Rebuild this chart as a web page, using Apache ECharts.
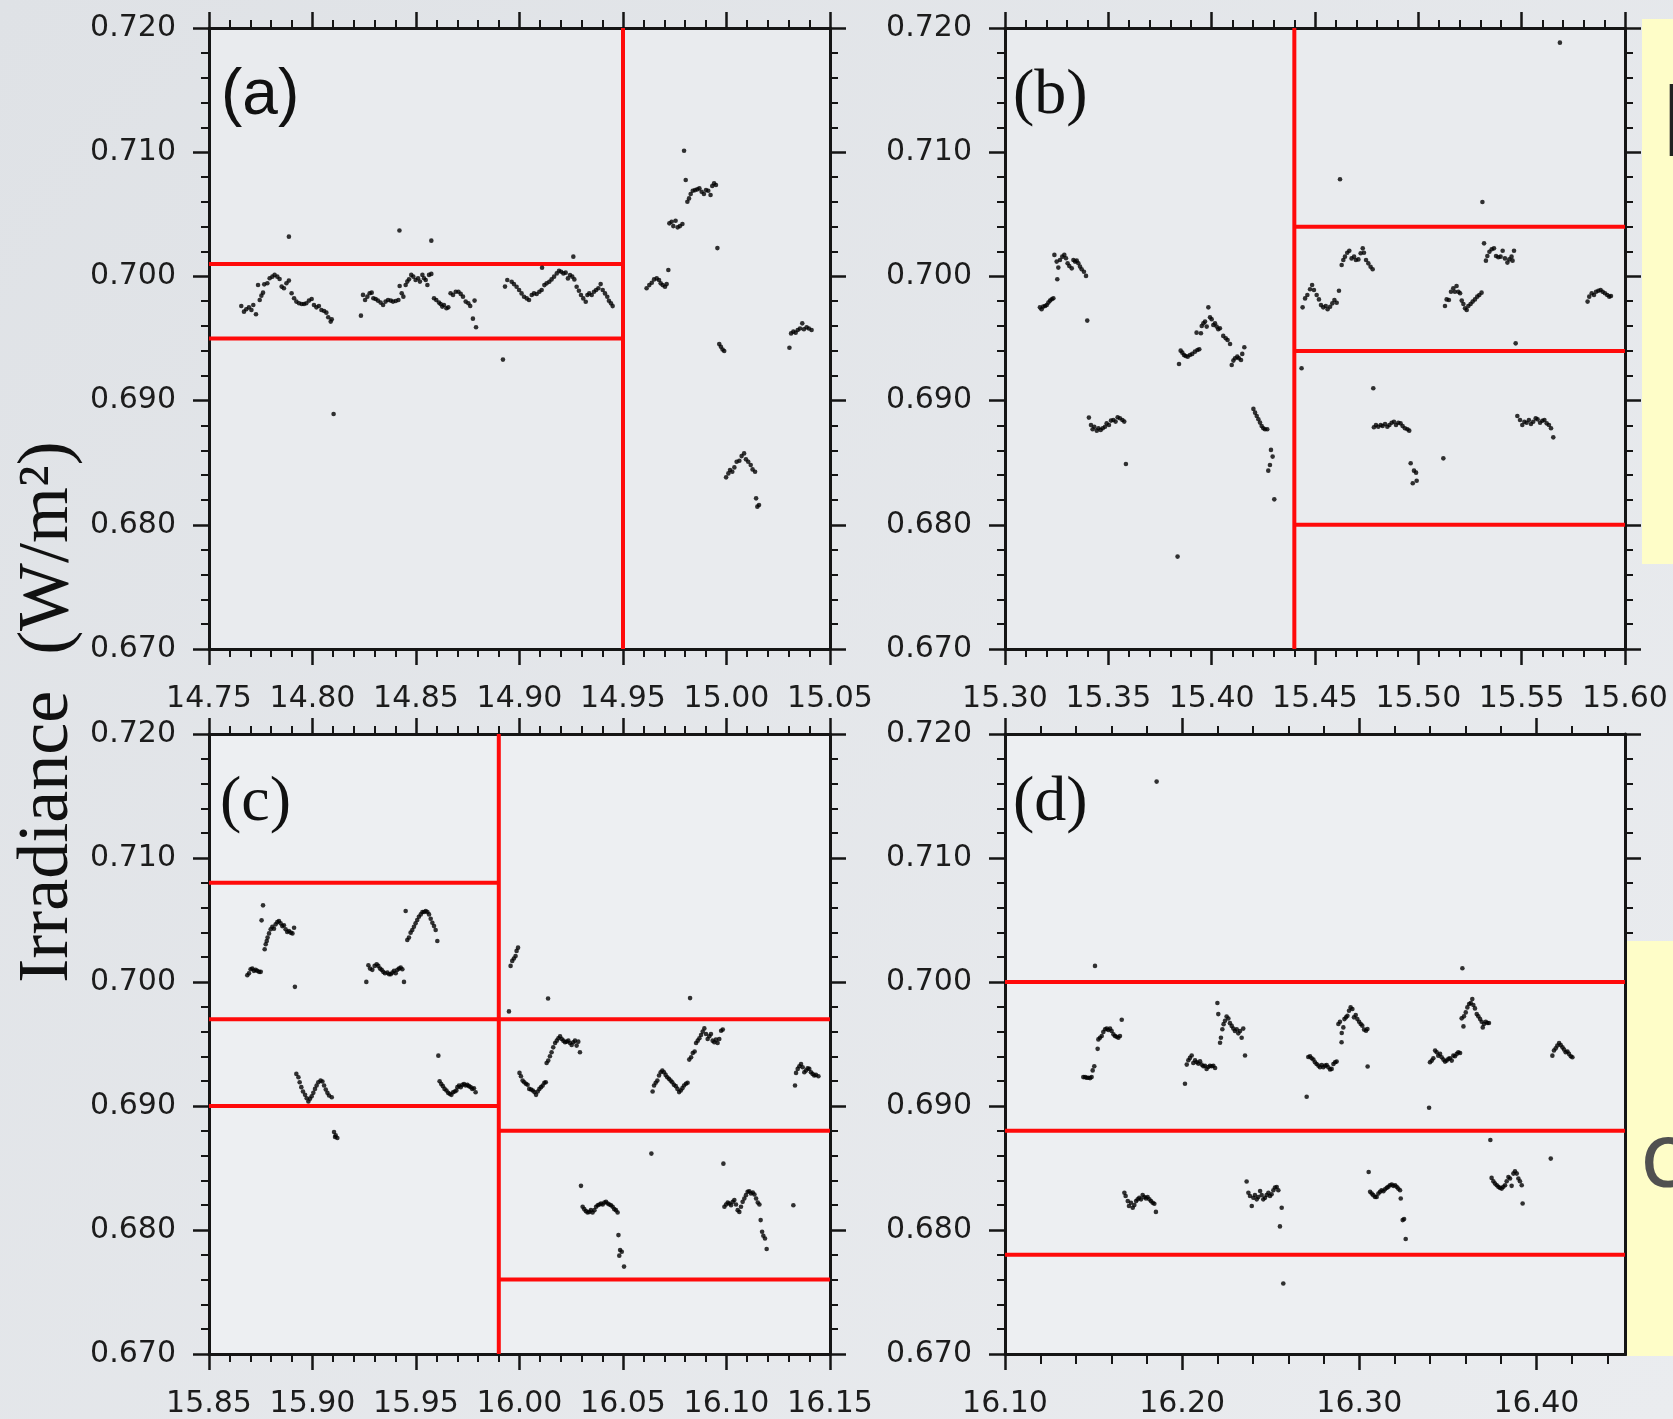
<!DOCTYPE html>
<html><head><meta charset="utf-8">
<script src="https://cdn.jsdelivr.net/npm/echarts@6/dist/echarts.min.js"></script>
<style>html,body{margin:0;padding:0;background:#e4e6e9}#c{width:1673px;height:1419px}</style>
</head><body><div id="c"></div>
<script>
// ---------- axis ranges & ticks ----------
const yRange = [0.670, 0.720];
const xRangeA = [14.75, 15.05];
const xRangeB = [15.30, 15.60];
const xRangeC = [15.85, 16.15];
const xRangeD = [16.10, 16.45];
const xMajorD = [16.10, 16.20, 16.30, 16.40];
const xMinorD = [16.12,16.14,16.16,16.18,16.22,16.24,16.26,16.28,16.32,16.34,16.36,16.38,16.42,16.44];
const panelLabels = ['(a)', '(b)', '(c)', '(d)'];

// ---------- red threshold segments [[x1,y1],[x2,y2]] ----------
const redA = [[[14.95,0.670],[14.95,0.720]], [[14.75,0.701],[14.95,0.701]], [[14.75,0.695],[14.95,0.695]]];
const redB = [[[15.44,0.670],[15.44,0.720]], [[15.44,0.704],[15.60,0.704]], [[15.44,0.694],[15.60,0.694]], [[15.44,0.680],[15.60,0.680]]];
const redC = [[[15.99,0.670],[15.99,0.720]], [[15.85,0.708],[15.99,0.708]], [[15.85,0.697],[15.99,0.697]], [[15.85,0.690],[15.99,0.690]],
              [[15.99,0.697],[16.15,0.697]], [[15.99,0.688],[16.15,0.688]], [[15.99,0.676],[16.15,0.676]]];
const redD = [[[16.10,0.700],[16.45,0.700]], [[16.10,0.688],[16.45,0.688]], [[16.10,0.678],[16.45,0.678]]];

// ---------- irradiance samples [time, value] ----------
const pointsA = [
[14.7886,0.70320],[14.8420,0.70370],[14.8574,0.70288],[14.8102,0.68892],[14.8920,0.69330],[14.8234,0.69684],[14.8775,0.69660],[14.8790,0.69590],
[14.7656,0.69762],[14.7669,0.69716],[14.7680,0.69735],[14.7693,0.69751],[14.7705,0.69730],[14.7714,0.69770],[14.7727,0.69695],[14.7737,0.69931],[14.7745,0.69810],[14.7753,0.69845],[14.7761,0.69869],[14.7767,0.69936],[14.7782,0.69945],[14.7793,0.69985],[14.7806,0.69998],[14.7817,0.70012],[14.7830,0.69998],[14.7841,0.69979],[14.7851,0.69918],[14.7862,0.69904],[14.7874,0.69945],[14.7886,0.69966],[14.7899,0.69864],[14.7911,0.69824],[14.7922,0.69797],[14.7935,0.69784],[14.7948,0.69778],[14.7959,0.69778],[14.7970,0.69784],[14.7983,0.69805],[14.7996,0.69818],[14.8007,0.69770],[14.8019,0.69751],[14.8031,0.69762],[14.8043,0.69730],[14.8056,0.69722],[14.8067,0.69708],[14.8076,0.69671],[14.8088,0.69636],[14.8093,0.69655],
[14.8244,0.69851],[14.8254,0.69810],[14.8265,0.69837],[14.8276,0.69864],[14.8286,0.69869],[14.8294,0.69824],[14.8305,0.69818],[14.8316,0.69805],[14.8329,0.69789],[14.8341,0.69770],[14.8353,0.69797],[14.8365,0.69810],[14.8378,0.69805],[14.8389,0.69797],[14.8402,0.69802],[14.8415,0.69810],[14.8421,0.69923],[14.8431,0.69864],[14.8439,0.69837],[14.8450,0.69931],[14.8458,0.69958],[14.8466,0.69977],[14.8477,0.70012],[14.8487,0.69998],[14.8498,0.69971],[14.8510,0.69985],[14.8519,0.69958],[14.8531,0.70012],[14.8539,0.69985],[14.8547,0.69971],[14.8555,0.69931],[14.8563,0.70012],[14.8574,0.70020],[14.8587,0.69824],[14.8598,0.69810],[14.8611,0.69789],[14.8619,0.69778],[14.8627,0.69757],[14.8635,0.69770],[14.8647,0.69743],[14.8656,0.69751],[14.8667,0.69864],[14.8679,0.69851],[14.8692,0.69877],[14.8705,0.69877],[14.8716,0.69859],[14.8727,0.69837],[14.8740,0.69797],[14.8753,0.69784],[14.8762,0.69762],[14.8783,0.69805],
[14.8930,0.69918],[14.8941,0.69971],[14.8962,0.69957],[14.8973,0.69938],[14.8986,0.69917],[14.8998,0.69890],[14.9010,0.69863],[14.9022,0.69836],[14.9035,0.69823],[14.9046,0.69810],[14.9059,0.69850],[14.9070,0.69863],[14.9083,0.69858],[14.9096,0.69877],[14.9107,0.69890],[14.9109,0.70070],[14.9120,0.69930],[14.9131,0.69944],[14.9144,0.69957],[14.9155,0.69976],[14.9167,0.69998],[14.9180,0.70024],[14.9191,0.70046],[14.9201,0.70038],[14.9212,0.70024],[14.9223,0.70030],[14.9234,0.69984],[14.9244,0.70011],[14.9255,0.69998],[14.9260,0.70159],[14.9265,0.69976],[14.9276,0.69917],[14.9287,0.69885],[14.9297,0.69850],[14.9308,0.69823],[14.9320,0.69796],[14.9328,0.69850],[14.9337,0.69863],[14.9349,0.69850],[14.9360,0.69877],[14.9370,0.69890],[14.9381,0.69904],[14.9392,0.69938],[14.9402,0.69890],[14.9413,0.69863],[14.9424,0.69836],[14.9432,0.69804],[14.9442,0.69783],[14.9450,0.69761],
[14.9614,0.69904],[14.9627,0.69930],[14.9639,0.69949],[14.9650,0.69976],[14.9663,0.69984],[14.9674,0.69971],[14.9682,0.69944],[14.9692,0.69930],[14.9703,0.69917],[14.9711,0.69938],[14.9719,0.70051],
[14.9724,0.70427],[14.9735,0.70440],[14.9743,0.70405],[14.9754,0.70448],[14.9764,0.70395],[14.9775,0.70405],[14.9787,0.70422],
[14.9795,0.71012],[14.9803,0.70776],
[14.9811,0.70601],[14.9819,0.70628],[14.9827,0.70663],[14.9837,0.70690],[14.9848,0.70695],[14.9859,0.70701],[14.9869,0.70709],[14.9880,0.70682],[14.9891,0.70663],[14.9901,0.70695],[14.9912,0.70690],[14.9923,0.70655],[14.9931,0.70728],[14.9940,0.70749],[14.9949,0.70736],
[14.9956,0.70228],
[14.9965,0.69455],[14.9973,0.69434],[14.9981,0.69412],[14.9989,0.69399],
[14.9998,0.68382],[15.0009,0.68414],[15.0017,0.68441],[15.0028,0.68427],[15.0038,0.68462],[15.0049,0.68508],[15.0062,0.68516],[15.0073,0.68553],[15.0085,0.68575],[15.0094,0.68527],[15.0105,0.68508],[15.0117,0.68481],[15.0126,0.68446],[15.0138,0.68427],[15.0143,0.68213],[15.0149,0.68146],[15.0157,0.68159],
[15.0304,0.69426],[15.0312,0.69541],[15.0323,0.69555],[15.0334,0.69547],[15.0344,0.69568],[15.0355,0.69581],[15.0366,0.69622],[15.0374,0.69574],[15.0387,0.69590],[15.0398,0.69581],[15.0411,0.69568]
];

const pointsB = [
[15.3169,0.69751],[15.3177,0.69735],[15.3185,0.69757],[15.3194,0.69762],[15.3202,0.69770],[15.3210,0.69789],[15.3218,0.69805],[15.3226,0.69816],[15.3234,0.69824],
[15.3239,0.70173],[15.3250,0.70119],[15.3253,0.69977],[15.3258,0.70071],[15.3266,0.70132],[15.3277,0.70159],[15.3287,0.70173],[15.3295,0.70146],[15.3303,0.70106],[15.3311,0.70084],[15.3323,0.70065],[15.3331,0.70132],[15.3339,0.70119],[15.3347,0.70127],[15.3355,0.70106],[15.3363,0.70079],[15.3371,0.70057],[15.3382,0.70038],[15.3392,0.70004],[15.3398,0.69644],
[15.3406,0.68863],[15.3416,0.68804],[15.3424,0.68769],[15.3432,0.68790],[15.3444,0.68758],[15.3452,0.68777],[15.3463,0.68764],[15.3473,0.68777],[15.3484,0.68790],[15.3492,0.68817],[15.3503,0.68804],[15.3513,0.68839],[15.3524,0.68844],[15.3535,0.68831],[15.3545,0.68866],[15.3556,0.68858],[15.3568,0.68844],[15.3577,0.68831],[15.3585,0.68490],
[15.3835,0.67744],[15.3842,0.69295],
[15.3850,0.69402],[15.3858,0.69386],[15.3866,0.69367],[15.3874,0.69359],[15.3884,0.69354],[15.3895,0.69367],[15.3906,0.69376],[15.3919,0.69394],[15.3931,0.69408],[15.3940,0.69413],[15.3927,0.69547],[15.3948,0.69542],[15.3952,0.69601],[15.3960,0.69622],[15.3968,0.69636],[15.3976,0.69596],[15.3984,0.69751],[15.3992,0.69671],[15.4000,0.69655],[15.4008,0.69609],[15.4016,0.69622],[15.4024,0.69596],[15.4032,0.69574],[15.4040,0.69582],[15.4056,0.69521],[15.4068,0.69502],[15.4077,0.69488],[15.4089,0.69456],[15.4097,0.69287],[15.4105,0.69322],[15.4113,0.69341],[15.4124,0.69354],[15.4132,0.69341],[15.4142,0.69327],[15.4148,0.69376],[15.4158,0.69429],
[15.4202,0.68933],[15.4210,0.68903],[15.4218,0.68876],[15.4226,0.68850],[15.4234,0.68823],[15.4242,0.68796],[15.4250,0.68777],[15.4258,0.68769],[15.4269,0.68769],[15.4287,0.68603],[15.4295,0.68549],[15.4282,0.68482],[15.4274,0.68436],[15.4303,0.68205],
[15.4435,0.69260],
[15.4440,0.69751],[15.4452,0.69823],[15.4463,0.69850],[15.4476,0.69896],[15.4486,0.69931],[15.4495,0.69890],[15.4508,0.69850],[15.4519,0.69815],[15.4529,0.69770],[15.4540,0.69751],[15.4552,0.69762],[15.4561,0.69735],[15.4573,0.69756],[15.4584,0.69783],[15.4594,0.69810],[15.4605,0.69788],[15.4616,0.69885],
[15.4621,0.70782],
[15.4629,0.70092],[15.4637,0.70132],[15.4645,0.70159],[15.4656,0.70191],[15.4666,0.70207],[15.4677,0.70145],[15.4689,0.70159],[15.4698,0.70132],[15.4710,0.70137],[15.4721,0.70186],[15.4731,0.70226],[15.4737,0.70191],[15.4747,0.70132],[15.4758,0.70105],[15.4769,0.70078],[15.4779,0.70057],
[15.4782,0.69099],
[15.4785,0.68785],[15.4795,0.68803],[15.4806,0.68790],[15.4818,0.68803],[15.4827,0.68795],[15.4839,0.68812],[15.4850,0.68790],[15.4860,0.68803],[15.4871,0.68822],[15.4882,0.68830],[15.4892,0.68803],[15.4903,0.68822],[15.4914,0.68817],[15.4924,0.68795],[15.4935,0.68777],[15.4947,0.68769],[15.4956,0.68758],
[15.4963,0.68495],[15.4979,0.68436],[15.4989,0.68420],[15.4992,0.68355],[15.4973,0.68334],
[15.5121,0.68535],
[15.5129,0.69762],[15.5137,0.69815],[15.5148,0.69810],[15.5158,0.69877],[15.5169,0.69904],[15.5177,0.69877],[15.5185,0.69923],[15.5194,0.69877],[15.5202,0.69864],[15.5210,0.69805],[15.5218,0.69778],[15.5226,0.69743],[15.5234,0.69729],[15.5242,0.69762],[15.5253,0.69778],[15.5263,0.69797],[15.5274,0.69815],[15.5285,0.69837],[15.5295,0.69850],[15.5306,0.69869],
[15.5310,0.70599],
[15.5318,0.70266],[15.5327,0.70127],[15.5334,0.70164],[15.5344,0.70199],[15.5355,0.70218],[15.5366,0.70226],[15.5376,0.70164],[15.5387,0.70154],[15.5398,0.70159],[15.5408,0.70207],[15.5419,0.70145],[15.5431,0.70111],[15.5440,0.70137],[15.5451,0.70159],[15.5463,0.70207],[15.5456,0.70127],
[15.5471,0.69461],
[15.5479,0.68876],[15.5492,0.68844],[15.5503,0.68803],[15.5513,0.68830],[15.5524,0.68822],[15.5535,0.68844],[15.5545,0.68812],[15.5556,0.68830],[15.5568,0.68857],[15.5577,0.68849],[15.5589,0.68822],[15.5600,0.68838],[15.5610,0.68844],[15.5621,0.68817],[15.5632,0.68803],[15.5642,0.68777],[15.5653,0.68704],
[15.5685,0.71882],
[15.5819,0.69797],[15.5827,0.69837],[15.5839,0.69864],[15.5850,0.69850],[15.5860,0.69877],[15.5871,0.69885],[15.5882,0.69890],[15.5892,0.69877],[15.5903,0.69864],[15.5914,0.69850],[15.5924,0.69837],[15.5932,0.69842]
];

const pointsC = [
[15.8685,0.70055],[15.8693,0.70071],[15.8701,0.70103],[15.8709,0.70108],[15.8717,0.70090],[15.8725,0.70098],[15.8733,0.70090],[15.8742,0.70082],[15.8750,0.70082],
[15.8754,0.70497],[15.8761,0.70618],
[15.8769,0.70264],[15.8774,0.70304],[15.8779,0.70331],[15.8783,0.70358],[15.8790,0.70392],[15.8798,0.70425],[15.8806,0.70446],[15.8814,0.70430],[15.8822,0.70465],[15.8830,0.70484],[15.8838,0.70492],[15.8846,0.70473],[15.8854,0.70451],[15.8862,0.70457],[15.8870,0.70425],[15.8878,0.70403],[15.8886,0.70411],[15.8895,0.70398],[15.8903,0.70392],[15.8911,0.70438],
[15.8915,0.69961],
[15.8922,0.69259],[15.8932,0.69232],[15.8938,0.69192],[15.8946,0.69152],[15.8954,0.69117],[15.8964,0.69090],[15.8972,0.69063],[15.8980,0.69036],[15.8988,0.69058],[15.8996,0.69079],[15.9004,0.69106],[15.9012,0.69138],[15.9020,0.69165],[15.9028,0.69192],[15.9039,0.69205],[15.9048,0.69197],[15.9056,0.69165],[15.9064,0.69133],[15.9072,0.69106],[15.9080,0.69085],[15.9093,0.69071],
[15.9104,0.68790],[15.9112,0.68763],[15.9120,0.68742],[15.9109,0.68750],
[15.9260,0.70001],
[15.9270,0.70135],[15.9278,0.70108],[15.9289,0.70098],[15.9300,0.70130],[15.9310,0.70143],[15.9318,0.70130],[15.9326,0.70108],[15.9334,0.70098],[15.9342,0.70082],[15.9350,0.70071],[15.9362,0.70076],[15.9370,0.70063],[15.9378,0.70063],[15.9386,0.70076],[15.9394,0.70090],[15.9402,0.70071],[15.9410,0.70098],[15.9418,0.70108],[15.9426,0.70116],[15.9434,0.70103],[15.9442,0.70001],
[15.9450,0.70572],
[15.9458,0.70339],[15.9466,0.70358],[15.9474,0.70398],[15.9482,0.70419],[15.9490,0.70446],[15.9498,0.70473],[15.9506,0.70500],[15.9514,0.70526],[15.9523,0.70545],[15.9531,0.70564],[15.9539,0.70564],[15.9547,0.70572],[15.9555,0.70564],[15.9563,0.70545],[15.9571,0.70510],[15.9579,0.70478],[15.9587,0.70451],[15.9595,0.70419],[15.9603,0.70331],
[15.9608,0.69406],
[15.9614,0.69200],[15.9622,0.69178],[15.9630,0.69160],[15.9638,0.69138],[15.9647,0.69125],[15.9655,0.69106],[15.9663,0.69098],[15.9671,0.69090],[15.9679,0.69111],[15.9687,0.69117],[15.9695,0.69125],[15.9700,0.69152],[15.9708,0.69165],[15.9716,0.69152],[15.9724,0.69170],[15.9732,0.69178],[15.9740,0.69165],[15.9748,0.69170],[15.9756,0.69160],[15.9764,0.69152],[15.9772,0.69138],[15.9780,0.69143],[15.9788,0.69111],
[15.9949,0.69763],[15.9957,0.70130],[15.9965,0.70170],[15.9973,0.70189],[15.9981,0.70210],[15.9986,0.70251],[15.9993,0.70277],
[16.0138,0.69867],[16.0824,0.69870],
[16.0000,0.69267],[16.0007,0.69240],[16.0015,0.69205],[16.0023,0.69192],[16.0031,0.69179],[16.0039,0.69171],[16.0047,0.69138],[16.0056,0.69133],[16.0064,0.69125],[16.0072,0.69112],[16.0080,0.69090],[16.0088,0.69117],[16.0096,0.69138],[16.0104,0.69152],[16.0112,0.69165],[16.0120,0.69187],[16.0127,0.69192],
[16.0131,0.69347],[16.0139,0.69366],[16.0147,0.69401],[16.0155,0.69433],[16.0163,0.69473],[16.0172,0.69508],[16.0180,0.69527],[16.0188,0.69546],[16.0196,0.69562],[16.0204,0.69540],[16.0212,0.69527],[16.0220,0.69514],[16.0228,0.69519],[16.0236,0.69527],[16.0244,0.69508],[16.0252,0.69492],[16.0260,0.69514],[16.0268,0.69527],[16.0276,0.69487],[16.0284,0.69519],[16.0292,0.69433],
[16.0297,0.68356],[16.0305,0.68187],[16.0313,0.68168],[16.0321,0.68152],[16.0329,0.68141],[16.0337,0.68146],[16.0345,0.68160],[16.0353,0.68141],[16.0362,0.68160],[16.0370,0.68187],[16.0378,0.68200],[16.0386,0.68206],[16.0394,0.68214],[16.0402,0.68206],[16.0410,0.68222],[16.0418,0.68227],[16.0426,0.68214],[16.0434,0.68206],[16.0442,0.68200],[16.0450,0.68187],[16.0458,0.68168],[16.0466,0.68160],[16.0474,0.68141],[16.0478,0.67959],[16.0486,0.67839],[16.0494,0.67825],[16.0482,0.67793],[16.0505,0.67705],
[16.0637,0.68616],
[16.0643,0.69117],[16.0650,0.69165],[16.0658,0.69187],[16.0666,0.69205],[16.0674,0.69246],[16.0682,0.69272],[16.0690,0.69286],[16.0698,0.69272],[16.0706,0.69251],[16.0714,0.69232],[16.0722,0.69219],[16.0730,0.69205],[16.0738,0.69192],[16.0746,0.69171],[16.0755,0.69160],[16.0763,0.69138],[16.0771,0.69112],[16.0779,0.69125],[16.0787,0.69144],[16.0795,0.69165],[16.0804,0.69179],[16.0812,0.69187],
[16.0820,0.69374],[16.0829,0.69393],[16.0837,0.69428],[16.0846,0.69439],[16.0853,0.69508],[16.0861,0.69527],[16.0869,0.69546],[16.0877,0.69573],[16.0885,0.69600],[16.0893,0.69626],[16.0901,0.69581],[16.0909,0.69540],[16.0917,0.69562],[16.0925,0.69581],[16.0933,0.69527],[16.0941,0.69514],[16.0949,0.69535],[16.0957,0.69508],[16.0965,0.69540],[16.0974,0.69607],[16.0982,0.69616],
[16.0985,0.68535],
[16.0990,0.68187],[16.0998,0.68206],[16.1006,0.68222],[16.1014,0.68214],[16.1022,0.68200],[16.1030,0.68227],[16.1038,0.68241],[16.1046,0.68206],[16.1054,0.68160],[16.1062,0.68146],[16.1070,0.68187],[16.1078,0.68227],[16.1086,0.68254],[16.1094,0.68281],[16.1102,0.68308],[16.1110,0.68313],[16.1118,0.68294],[16.1127,0.68302],[16.1135,0.68286],[16.1143,0.68254],[16.1151,0.68222],[16.1159,0.68206],[16.1165,0.68080],[16.1172,0.67986],[16.1178,0.67954],[16.1186,0.67932],[16.1194,0.67847],
[16.1323,0.68200],
[16.1331,0.69165],[16.1336,0.69267],[16.1344,0.69299],[16.1352,0.69321],[16.1360,0.69339],[16.1368,0.69313],[16.1376,0.69272],[16.1384,0.69286],[16.1392,0.69305],[16.1400,0.69299],[16.1408,0.69272],[16.1416,0.69259],[16.1424,0.69246],[16.1432,0.69251],[16.1444,0.69240]
];

const pointsD = [
[16.1508,0.70130],[16.1856,0.71616],
[16.1442,0.69233],[16.1452,0.69233],[16.1461,0.69228],[16.1470,0.69228],[16.1480,0.69225],[16.1489,0.69233],[16.1495,0.69287],[16.1504,0.69320],[16.1523,0.69461],[16.1527,0.69537],[16.1536,0.69551],[16.1546,0.69565],[16.1555,0.69597],[16.1565,0.69619],[16.1574,0.69624],[16.1583,0.69613],[16.1593,0.69624],[16.1602,0.69605],[16.1612,0.69578],[16.1621,0.69565],[16.1630,0.69559],[16.1640,0.69551],[16.1649,0.69565],[16.1659,0.69695],
[16.1674,0.68301],[16.1681,0.68274],[16.1693,0.68233],[16.1700,0.68193],[16.1711,0.68220],[16.1721,0.68179],[16.1730,0.68201],[16.1740,0.68233],[16.1749,0.68247],[16.1758,0.68260],[16.1768,0.68247],[16.1777,0.68282],[16.1787,0.68266],[16.1796,0.68255],[16.1805,0.68266],[16.1815,0.68247],[16.1824,0.68233],[16.1834,0.68220],[16.1843,0.68212],[16.1852,0.68146],
[16.2016,0.69179],
[16.2026,0.69334],[16.2035,0.69369],[16.2044,0.69388],[16.2054,0.69407],[16.2063,0.69347],[16.2073,0.69369],[16.2082,0.69353],[16.2091,0.69342],[16.2101,0.69361],[16.2110,0.69334],[16.2120,0.69320],[16.2129,0.69325],[16.2138,0.69298],[16.2148,0.69315],[16.2157,0.69325],[16.2167,0.69320],[16.2176,0.69325],[16.2186,0.69307],
[16.2199,0.69831],[16.2204,0.69741],[16.2214,0.69510],[16.2219,0.69551],[16.2227,0.69619],[16.2234,0.69660],[16.2242,0.69687],[16.2251,0.69722],[16.2261,0.69706],[16.2270,0.69668],[16.2280,0.69646],[16.2289,0.69624],[16.2298,0.69605],[16.2308,0.69619],[16.2317,0.69586],[16.2327,0.69605],[16.2336,0.69551],[16.2345,0.69624],[16.2355,0.69407],
[16.2364,0.68391],[16.2374,0.68301],[16.2383,0.68274],[16.2393,0.68193],[16.2402,0.68260],[16.2411,0.68282],[16.2421,0.68247],[16.2430,0.68266],[16.2440,0.68315],[16.2449,0.68282],[16.2458,0.68247],[16.2468,0.68260],[16.2477,0.68282],[16.2487,0.68301],[16.2496,0.68274],[16.2505,0.68288],[16.2515,0.68320],[16.2524,0.68342],[16.2534,0.68347],[16.2543,0.68320],[16.2562,0.68179],[16.2552,0.68029],[16.2571,0.67568],
[16.2703,0.69075],
[16.2712,0.69395],[16.2722,0.69401],[16.2731,0.69385],[16.2741,0.69374],[16.2750,0.69353],[16.2759,0.69339],[16.2769,0.69326],[16.2778,0.69313],[16.2788,0.69331],[16.2797,0.69313],[16.2807,0.69326],[16.2816,0.69331],[16.2825,0.69313],[16.2835,0.69294],[16.2844,0.69299],[16.2854,0.69339],[16.2863,0.69353],[16.2872,0.69358],
[16.2882,0.69661],[16.2891,0.69680],[16.2900,0.69514],[16.2901,0.69589],[16.2910,0.69634],[16.2916,0.69701],[16.2925,0.69715],[16.2933,0.69728],[16.2942,0.69768],[16.2951,0.69795],[16.2961,0.69782],[16.2970,0.69715],[16.2980,0.69733],[16.2989,0.69701],[16.2999,0.69680],[16.3008,0.69661],[16.3017,0.69648],[16.3027,0.69616],[16.3038,0.69607],[16.3046,0.69621],[16.3047,0.69318],
[16.3053,0.68468],[16.3061,0.68308],[16.3070,0.68294],[16.3079,0.68281],[16.3089,0.68267],[16.3098,0.68267],[16.3108,0.68294],[16.3117,0.68308],[16.3126,0.68321],[16.3136,0.68313],[16.3145,0.68329],[16.3155,0.68340],[16.3164,0.68348],[16.3173,0.68361],[16.3183,0.68367],[16.3192,0.68356],[16.3202,0.68361],[16.3211,0.68348],[16.3220,0.68334],[16.3230,0.68321],[16.3234,0.68254],[16.3245,0.68080],[16.3253,0.68088],[16.3262,0.67927],
[16.3394,0.68986],
[16.3399,0.69353],[16.3409,0.69366],[16.3418,0.69385],[16.3428,0.69447],[16.3437,0.69433],[16.3446,0.69406],[16.3456,0.69420],[16.3465,0.69393],[16.3475,0.69374],[16.3484,0.69358],[16.3493,0.69366],[16.3503,0.69380],[16.3512,0.69385],[16.3522,0.69366],[16.3531,0.69406],[16.3540,0.69401],[16.3550,0.69420],[16.3559,0.69433],[16.3569,0.69428],
[16.3582,0.70111],
[16.3578,0.69707],[16.3588,0.69642],[16.3591,0.69723],[16.3601,0.69755],[16.3610,0.69795],[16.3620,0.69822],[16.3629,0.69830],[16.3638,0.69862],[16.3644,0.69814],[16.3653,0.69787],[16.3663,0.69741],[16.3672,0.69723],[16.3682,0.69701],[16.3691,0.69680],[16.3697,0.69634],[16.3704,0.69661],[16.3714,0.69680],[16.3723,0.69669],[16.3732,0.69669],
[16.3740,0.68726],
[16.3747,0.68420],[16.3757,0.68393],[16.3766,0.68375],[16.3776,0.68361],[16.3785,0.68348],[16.3794,0.68340],[16.3804,0.68334],[16.3813,0.68348],[16.3823,0.68361],[16.3832,0.68393],[16.3842,0.68428],[16.3851,0.68415],[16.3860,0.68356],[16.3870,0.68455],[16.3879,0.68474],[16.3889,0.68455],[16.3898,0.68415],[16.3907,0.68393],[16.3917,0.68361],[16.3922,0.68214],
[16.4081,0.68576],
[16.4090,0.69406],[16.4099,0.69447],[16.4109,0.69465],[16.4118,0.69487],[16.4128,0.69508],[16.4137,0.69492],[16.4147,0.69473],[16.4156,0.69455],[16.4165,0.69433],[16.4175,0.69439],[16.4184,0.69420],[16.4194,0.69401],[16.4203,0.69393]
];

// ---------- build chart ----------
const panels = [
  {grid:{left:209, top:28, width:621, height:621}, xr:xRangeA, iv:0.05, pts:pointsA, red:redA},
  {grid:{left:1005, top:28, width:620, height:621}, xr:xRangeB, iv:0.05, pts:pointsB, red:redB},
  {grid:{left:209, top:734, width:621, height:622}, xr:xRangeC, iv:0.05, pts:pointsC, red:redC},
  {grid:{left:1005, top:734, width:620, height:622}, xr:xRangeD, iv:0.10, pts:pointsD, red:redD, custom:true}
];
const INK = '#151515';
const labelFont = {fontSize:30, fontFamily:'DejaVu Sans', color:'#1c1c1c'};
const lineS = {show:true, onZero:false, lineStyle:{color:INK, width:3}};
const tickS = {show:true, inside:false, length:16, lineStyle:{color:INK, width:2.5}};
const minorS = {show:true, splitNumber:5, length:8, lineStyle:{color:INK, width:2}};

const grids = [], xAxes = [], yAxes = [], series = [], graphics = [];
panels.forEach((p, i) => {
  grids.push(Object.assign({show:true, backgroundColor: i < 2 ? '#e9ebee' : '#edeff2', borderWidth:0}, p.grid));
  ['bottom','top'].forEach(pos => {
    const ax = {type:'value', gridIndex:i, position:pos, min:p.xr[0], max:p.xr[1], interval:p.iv,
      splitLine:{show:false}, axisLine:lineS, axisTick:Object.assign({}, tickS),
      minorTick:minorS,
      axisLabel: pos === 'bottom' ? Object.assign({show:true, margin:35, formatter:v => v.toFixed(2)}, labelFont) : {show:false}};
    if (p.custom) {
      ax.axisTick.customValues = xMajorD;
      ax.minorTick = {show:false};
      if (pos === 'bottom') { ax.axisLabel.customValues = xMajorD; ax.axisLabel.showMaxLabel = true; }
    }
    xAxes.push(ax);
  });
  ['left','right'].forEach(pos => {
    yAxes.push({type:'value', gridIndex:i, position:pos, min:yRange[0], max:yRange[1], interval:0.01,
      splitLine:{show:false}, axisLine:lineS, axisTick:tickS, minorTick:minorS,
      axisLabel: pos === 'left' ? Object.assign({show:true, margin:33, formatter:v => v.toFixed(3)}, labelFont) : {show:false}});
  });
  p.red.forEach(seg => series.push({type:'line', xAxisIndex:2*i, yAxisIndex:2*i, data:seg, symbol:'none',
    lineStyle:{color:'#ff0a0a', width:4}, z:3, silent:true}));
  series.push({type:'scatter', xAxisIndex:2*i, yAxisIndex:2*i, data:p.pts, symbol:'circle', symbolSize:4.6,
    itemStyle:{color:'#000'}, z:5, silent:true});
});
// overlay grid for panel (d) minor x ticks
grids.push(Object.assign({show:false}, panels[3].grid));
['bottom','top'].forEach(pos => xAxes.push({type:'value', gridIndex:4, position:pos, min:xRangeD[0], max:xRangeD[1], interval:0.1,
  splitLine:{show:false}, axisLine:{show:false}, axisLabel:{show:false}, minorTick:{show:false},
  axisTick:{show:true, inside:false, length:8, customValues:xMinorD, lineStyle:{color:INK, width:2}}}));
yAxes.push({type:'value', gridIndex:4, min:yRange[0], max:yRange[1], show:false});

// panel letters
const letterPos = [[221,104,'"Liberation Sans"'],[1013,104,'"Liberation Serif"'],[220,811,'"Liberation Serif"'],[1013,811,'"Liberation Serif"']];
panelLabels.forEach((t, i) => graphics.push({type:'text', left:letterPos[i][0], top:letterPos[i][1]-40, z:10,
  style:{text:t, font:'normal 64px ' + letterPos[i][2], fill:'#111'}}));
// y title
graphics.push({type:'text', x:48, y:712, rotation:Math.PI/2, z:10,
  style:{text:'Irradiance  (W/m²)', font:'normal 72px "Liberation Serif"', fill:'#111', align:'center', verticalAlign:'middle'}});
// slide yellow boxes at right edge
graphics.push({type:'rect', shape:{x:1642, y:19, width:40, height:545}, z:20, style:{fill:'#fefdc8'}});
graphics.push({type:'text', x:1660, y:128, z:21, style:{text:'D', font:'normal 100px "Noto Sans"', fill:'#222', verticalAlign:'middle'}});
graphics.push({type:'rect', shape:{x:1627, y:941, width:50, height:415}, z:20, style:{fill:'#fefdc8'}});
graphics.push({type:'text', x:1641, y:1168, z:21, style:{text:'C', font:'600 68px "Open Sans"', fill:'#505050', verticalAlign:'middle'}});

const chart = echarts.init(document.getElementById('c'), null, {renderer:'canvas'});
chart.setOption({
  animation:false,
  backgroundColor:{type:'linear', x:0, y:0, x2:1, y2:1, colorStops:[{offset:0, color:'#dfe2e6'},{offset:1, color:'#eaecef'}]},
  grid:grids, xAxis:xAxes, yAxis:yAxes, series:series, graphic:graphics
});
</script></body></html>
